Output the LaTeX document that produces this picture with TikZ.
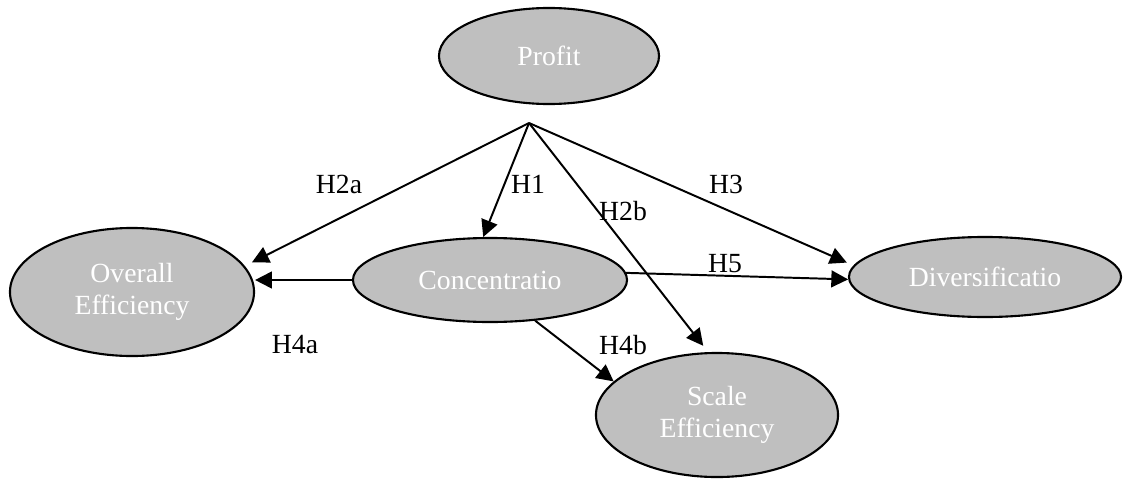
\documentclass[tikz,border=0pt]{standalone}
\usepackage{fontspec}
\setmainfont{Liberation Serif}
\usetikzlibrary{shapes.geometric,arrows.meta}
\begin{document}
\begin{tikzpicture}[x=0.025cm, y=-0.025cm,
    font=\fontsize{19.7}{22.7}\selectfont,
    construct/.style={ellipse, draw, line width=1.5pt, fill=gray!50, text=white,
        inner sep=0pt, align=center},
    arr/.style={line width=1.4pt, -{Triangle[length=0.42cm, width=0.42cm]}}]
    \useasboundingbox (0, 0) rectangle (1128, 479);
    % constructs
    \node[construct, minimum width=5.5cm, minimum height=2.4cm] (profit) at (549, 56) {Profit};
    \node[construct, minimum width=6.1cm, minimum height=3.2cm] (overall) at (132, 292) {Overall\\Efficiency};
    \node[construct, minimum width=6.85cm, minimum height=2.1cm] (conc) at (490, 280) {Concentratio};
    \node[construct, minimum width=6.8cm, minimum height=2cm] (div) at (985, 277) {Diversificatio};
    \node[construct, minimum width=6.05cm, minimum height=3.1cm] (scale) at (717, 415) {Scale\\Efficiency};
    % paths out of profit start at one point
    \coordinate (hub) at (529, 123);
    \draw[arr, shorten >=0.2cm] (hub) -- (overall.13);
    \draw[arr] (hub) -- (conc.99);
    \draw[arr, shorten >=0.2cm] (hub) -- (scale.98);
    \draw[arr, shorten >=0.18cm] (hub) -- (div.175);
    % paths out of concentration
    \draw[arr] (conc.west) -- (conc.west -| overall.east);
    \draw[arr] (conc.3) -- (div.181);
    \draw[arr] (conc.-42) -- (scale.162);
    % hypothesis labels
    \node (h2a) at (339, 184) {H2a};
    \node (h1) at (528, 184) {H1};
    \node (h2b) at (623, 211) {H2b};
    \node (h3) at (726, 184) {H3};
    \node (h5) at (725, 264) {H5};
    \node (h4a) at (295, 345) {H4a};
    \node (h4b) at (623, 345) {H4b};
\end{tikzpicture}
\end{document}
